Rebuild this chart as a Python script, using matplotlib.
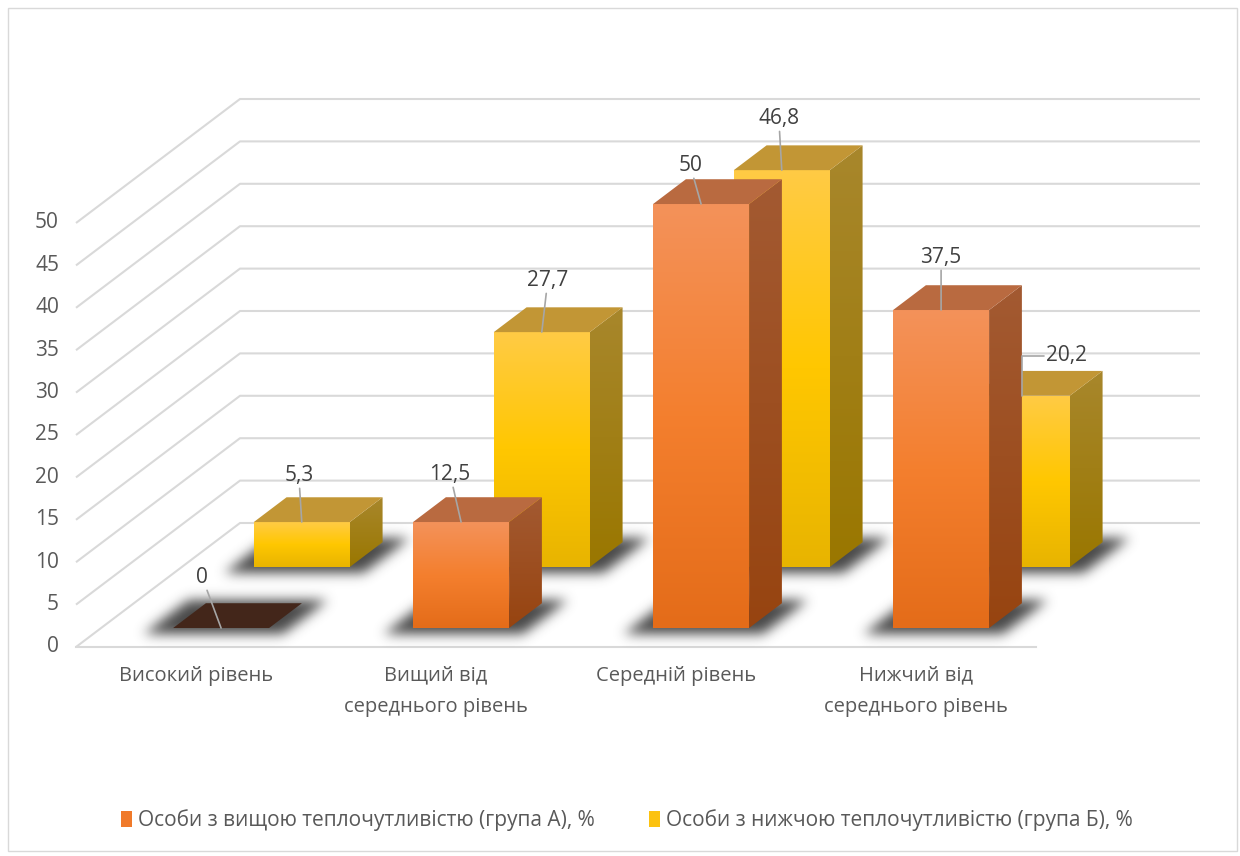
import numpy as np
import matplotlib
matplotlib.use('Agg')
import matplotlib.pyplot as plt
from matplotlib.patches import Polygon, Rectangle, Patch
from matplotlib.path import Path
from matplotlib.colors import LinearSegmentedColormap

plt.rcParams['font.family'] = ['Open Sans', 'DejaVu Sans']

categories = ['Високий рівень', 'Вищий від\nсереднього рівень',
              'Середній рівень', 'Нижчий від\nсереднього рівень']
group_a = [0, 12.5, 50, 37.5]
group_b = [5.3, 27.7, 46.8, 20.2]
series_names = ['Особи з вищою теплочутливістю (група А), %',
                'Особи з нижчою теплочутливістю (група Б), %']
y_ticks = np.arange(0, 55, 5)

# label placement (pixels from the top-front edge of each bar)
label_off_a = [(-19, 51), (-11, 48), (-11, 39), (0, 53)]
label_off_b = [(-3, 47), (6, 52), (-3, 52), (45, 40)]

W, H = 1240, 856
fig = plt.figure(figsize=(W / 100, H / 100), dpi=100)
ax = fig.add_axes([0, 0, 1, 1])
ax.axis('off')

# floor front edge starts 76 px in, a category is 240 px wide, 8.48 px per unit
cat_px, x0_px, unit_px, base_px = 240., 76., 8.48, 647.
xlim = (-x0_px / cat_px, (W - x0_px) / cat_px)
ylim = ((base_px - H) / unit_px, base_px / unit_px)
ax.set_xlim(*xlim)
ax.set_ylim(*ylim)

# oblique depth: the full floor depth moves 164 px right and 124 px up
DX = 164 / cat_px
DV = 124 / unit_px
ncat = len(categories)


def proj(x, z, v):
    return (x + DX * z, v + DV * z)


def fmt(v):
    return ('%g' % v).replace('.', ',')


grid_c = '#d9d9d9'
for t in y_ticks:
    fx, fv = proj(0, 0, t)
    bx, bv = proj(0, 1, t)
    ax.plot([fx, bx, bx + ncat], [fv, bv, bv], color=grid_c, lw=1.5,
            solid_capstyle='butt', zorder=1)
    ax.annotate(str(t), xy=(0, t), xytext=(-17, 0), textcoords='offset pixels',
                ha='right', va='center', fontsize=15, color='#595959')
ax.plot([0, ncat], [0, 0], color=grid_c, lw=1.5, zorder=1)

bar_w = 0.4
# back row (group B) first so the front row covers it
rows = [(group_b, (0.645, 0.845), label_off_b,
         dict(front=['#ffcb45', '#ffc700', '#e8b400'], side=['#a8872c', '#9a7700'],
              top='#c29635', zero='#5a4200')),
        (group_a, (0.153, 0.353), label_off_a,
         dict(front=['#f3925a', '#f47f2e', '#e46c19'], side=['#a35a32', '#974410'],
              top='#b96a40', zero='#43261a'))]


def grad_face(pts, colors, z):
    pts = np.asarray(pts)
    poly = Polygon(pts, closed=True, facecolor='none', edgecolor='none',
                   transform=ax.transData)
    ax.add_patch(poly)
    cmap = LinearSegmentedColormap.from_list('face', colors)
    grad = np.linspace(0, 1, 256).reshape(-1, 1)
    im = ax.imshow(grad, cmap=cmap, vmin=0, vmax=1, origin='upper', aspect='auto',
                   extent=(pts[:, 0].min(), pts[:, 0].max(), pts[:, 1].min(), pts[:, 1].max()),
                   interpolation='bilinear', zorder=z)
    im.set_clip_path(poly)


# soft floor shadows under every bar
fig.canvas.draw()
mask = np.zeros((H, W))
px, py = np.meshgrid(np.arange(W) + 0.5, np.arange(H) + 0.5)
grid_pts = np.column_stack([px.ravel(), py.ravel()])
for vals, (z0, z1), _, _ in rows:
    for i, v in enumerate(vals):
        xl, xr = i + 0.5 - bar_w / 2 - 0.09, i + 0.5 + bar_w / 2 + 0.09
        foot = [proj(xl, z0 - 0.05, 0), proj(xr, z0 - 0.05, 0),
                proj(xr, z1 + 0.03, 0), proj(xl, z1 + 0.03, 0)]
        path = Path(ax.transData.transform(foot))
        mask = np.maximum(mask, path.contains_points(grid_pts).reshape(H, W))
ky = np.fft.fftfreq(H)[:, None]
kx = np.fft.rfftfreq(W)[None, :]
sig = 6.0
soft = np.fft.irfft2(np.fft.rfft2(mask) * np.exp(-2 * (np.pi * sig) ** 2 * (kx ** 2 + ky ** 2)), s=mask.shape)
shadow = np.zeros((H, W, 4))
shadow[..., :3] = 0.2
shadow[..., 3] = np.clip(soft, 0, 1) * 0.9
ax.imshow(shadow, origin='lower', extent=(*xlim, *ylim), aspect='auto', zorder=2,
          interpolation='bilinear')

zb = 3
for vals, (z0, z1), offs, col in rows:
    for i, v in enumerate(vals):
        xl, xr = i + 0.5 - bar_w / 2, i + 0.5 + bar_w / 2
        top = [proj(xl, z0, v), proj(xr, z0, v), proj(xr, z1, v), proj(xl, z1, v)]
        if v == 0:
            ax.add_patch(Polygon(top, closed=True, facecolor=col['zero'],
                                 edgecolor='none', zorder=zb))
        else:
            front = [proj(xl, z0, 0), proj(xr, z0, 0), proj(xr, z0, v), proj(xl, z0, v)]
            side = [proj(xr, z0, 0), proj(xr, z1, 0), proj(xr, z1, v), proj(xr, z0, v)]
            grad_face(side, col['side'], zb)
            grad_face(front, col['front'], zb + 0.1)
            ax.add_patch(Polygon(top, closed=True, facecolor=col['top'],
                                 edgecolor='none', zorder=zb + 0.1))
        anchor = proj(i + 0.5, z0, v)
        dx, dy = offs[i]
        cs = 'angle,angleA=0,angleB=90,rad=0' if dx > 20 else 'arc3'
        ax.annotate(fmt(v), xy=anchor, xytext=(dx, dy), textcoords='offset pixels',
                    ha='center', va='center', fontsize=15, color='#404040', zorder=8,
                    arrowprops=dict(arrowstyle='-', color='#a6a6a6', lw=1.2,
                                    shrinkA=0, shrinkB=0, connectionstyle=cs))
    zb += 1

for i, name in enumerate(categories):
    ax.text(i + 0.5, -2.2, name, ha='center', va='top', fontsize=14.5,
            color='#595959', linespacing=1.75)

handles = [Patch(facecolor='#f07a2a'), Patch(facecolor='#fcc210')]
fig.legend(handles, series_names, loc='center', bbox_to_anchor=(627 / W, 1 - 820 / H),
           ncol=2, frameon=False, fontsize=15, labelcolor='#595959',
           handlelength=0.5, handleheight=0.8, handletextpad=0.3, columnspacing=2.6)

fig.patches.append(Rectangle((8 / W, 5 / H), 1229 / W, 843 / H, transform=fig.transFigure,
                             fill=False, edgecolor='#d9d9d9', lw=1))

ax.set_xlim(*xlim)
ax.set_ylim(*ylim)
fig.savefig('out.png', dpi=100, facecolor='white')
